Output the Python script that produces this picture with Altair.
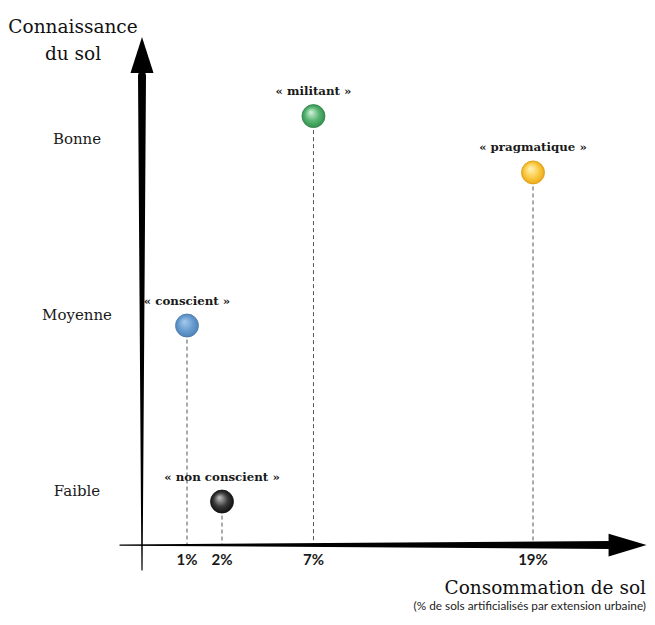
import altair as alt
import pandas as pd

# ---- data ----
profiles = ["« non conscient »", "« conscient »", "« militant »", "« pragmatique »"]
consumption = [2, 1, 7, 19]          # % de sols artificialisés
knowledge = [0.94, 1.94, 3.13, 2.81]  # 1 = Faible, 2 = Moyenne, 3 = Bonne

levels = ["Faible", "Moyenne", "Bonne"]
level_values = [1, 2, 3]

tick_labels = ["1%", "2%", "7%", "19%"]
tick_values = [1, 2, 7, 19]

y_title = "Connaissance\ndu sol"
x_title = "Consommation de sol"
x_subtitle = "(% de sols artificialisés par extension urbaine)"

# ---- styles ----
def grad(light, mid, dark):
    return {
        "gradient": "radial",
        "x1": 0.38, "y1": 0.32, "r1": 0.0,
        "x2": 0.5, "y2": 0.5, "r2": 0.55,
        "stops": [
            {"offset": 0.0, "color": light},
            {"offset": 0.55, "color": mid},
            {"offset": 1.0, "color": dark},
        ],
    }

ball_style = {
    "« non conscient »": (grad("#c8c8c8", "#3a3a3a", "#0a0a0a"), "#111111"),
    "« conscient »": (grad("#a8cbec", "#6b9fd1", "#4b7fb4"), "#4a78a8"),
    "« militant »": (grad("#d8f3df", "#58b572", "#2c8a47"), "#2d7f46"),
    "« pragmatique »": (grad("#fff4c0", "#fbcd4a", "#eaa20e"), "#d9980e"),
}

AXIS_Y = 0.693     # level of the horizontal arrow
SERIF = "DejaVu Serif"
SANS = "Lato"

xscale = alt.Scale(domain=[0, 1, 2, 19], range=[134, 179, 214, 525], zero=False, nice=False)
yscale = alt.Scale(domain=[0, 3], range=[659, 131], zero=False, nice=False)

X = lambda f: alt.X(f, type="quantitative", scale=xscale, axis=None)
Y = lambda f: alt.Y(f, type="quantitative", scale=yscale, axis=None)

pts = pd.DataFrame({"profil": profiles, "x": consumption, "y": knowledge})
pts["base"] = AXIS_Y

# ---- arrows (tapered shafts + heads) ----
xarrow = pd.DataFrame({"x": [-0.49, 23.3], "y": [AXIS_Y, AXIS_Y], "w": [1.2, 8.0], "o": [0, 1]})
yarrow = pd.DataFrame({"x": [0.0, 0.0], "y": [0.551, 3.36], "w": [1.2, 8.0], "o": [0, 1]})

x_shaft = alt.Chart(xarrow).mark_trail(color="black").encode(
    x=X("x"), y=Y("y"), size=alt.Size("w:Q", scale=None, legend=None), order="o:Q")
y_shaft = alt.Chart(yarrow).mark_trail(color="black").encode(
    x=X("x"), y=Y("y"), size=alt.Size("w:Q", scale=None, legend=None), order="o:Q")

x_head = alt.Chart(pd.DataFrame({"x": [24.17], "y": [AXIS_Y]})).mark_point(
    shape="M1,0L-1,-0.6L-1,0.6Z", size=1444, filled=True, color="black", opacity=1
).encode(x=X("x"), y=Y("y"))
y_head = alt.Chart(pd.DataFrame({"x": [0.0], "y": [3.477]})).mark_point(
    shape="M0,-1L0.64,1L-0.64,1Z", size=1296, filled=True, color="black", opacity=1
).encode(x=X("x"), y=Y("y"))

# ---- dashed drop lines ----
drops = alt.Chart(pts).mark_rule(color="#555555", strokeWidth=1, strokeDash=[4, 3]).encode(
    x=X("x"), y=Y("y"), y2="base:Q")

# ---- balls ----
balls = []
for p in profiles:
    fill, stroke = ball_style[p]
    balls.append(
        alt.Chart(pts).transform_filter(alt.datum.profil == p).mark_point(
            shape="circle", size=529, filled=True, fill=fill, stroke=stroke,
            strokeWidth=0.8, opacity=1, fillOpacity=1, strokeOpacity=1
        ).encode(x=X("x"), y=Y("y"))
    )

# ---- labels ----
ball_labels = alt.Chart(pts).mark_text(
    font=SERIF, fontWeight="bold", fontSize=11.8, color="#1a1a1a", dy=-25, baseline="middle"
).encode(x=X("x"), y=Y("y"), text="profil:N")

ticks = pd.DataFrame({"t": tick_labels, "x": tick_values})
ticks["y"] = AXIS_Y
tick_text = alt.Chart(ticks).mark_text(
    font=SANS, fontWeight="bold", fontSize=15, color="#1a1a1a", dy=15, baseline="middle"
).encode(x=X("x"), y=Y("y"), text="t:N")

lv = pd.DataFrame({"t": levels, "y": level_values})
level_text = alt.Chart(lv).mark_text(
    font=SERIF, fontSize=15, color="#1a1a1a", align="center", baseline="middle"
).encode(x=alt.value(69), y=Y("y"), text="t:N")

one = pd.DataFrame({"a": [0]})
ytitle = alt.Chart(one).mark_text(
    font=SERIF, fontSize=18.5, color="#111111", align="center", baseline="alphabetic",
    lineBreak="\n", lineHeight=27
).encode(x=alt.value(65), y=alt.value(25), text=alt.value(y_title))
xtitle = alt.Chart(one).mark_text(
    font=SERIF, fontSize=18.5, color="#111111", align="right", baseline="alphabetic"
).encode(x=alt.value(638), y=alt.value(586), text=alt.value(x_title))
xsub = alt.Chart(one).mark_text(
    font=SANS, fontSize=11.8, color="#222222", align="right", baseline="middle"
).encode(x=alt.value(638), y=alt.value(598), text=alt.value(x_subtitle))

chart = alt.layer(
    drops, x_shaft, y_shaft, x_head, y_head, *balls,
    ball_labels, tick_text, level_text, ytitle, xtitle, xsub
).properties(
    width=639, height=604, padding=0, autosize=alt.AutoSizeParams(type="none")
).configure(background="white", view=alt.ViewConfig(stroke=None))

chart.save("out.html", embed_options={"renderer": "svg", "actions": False})
